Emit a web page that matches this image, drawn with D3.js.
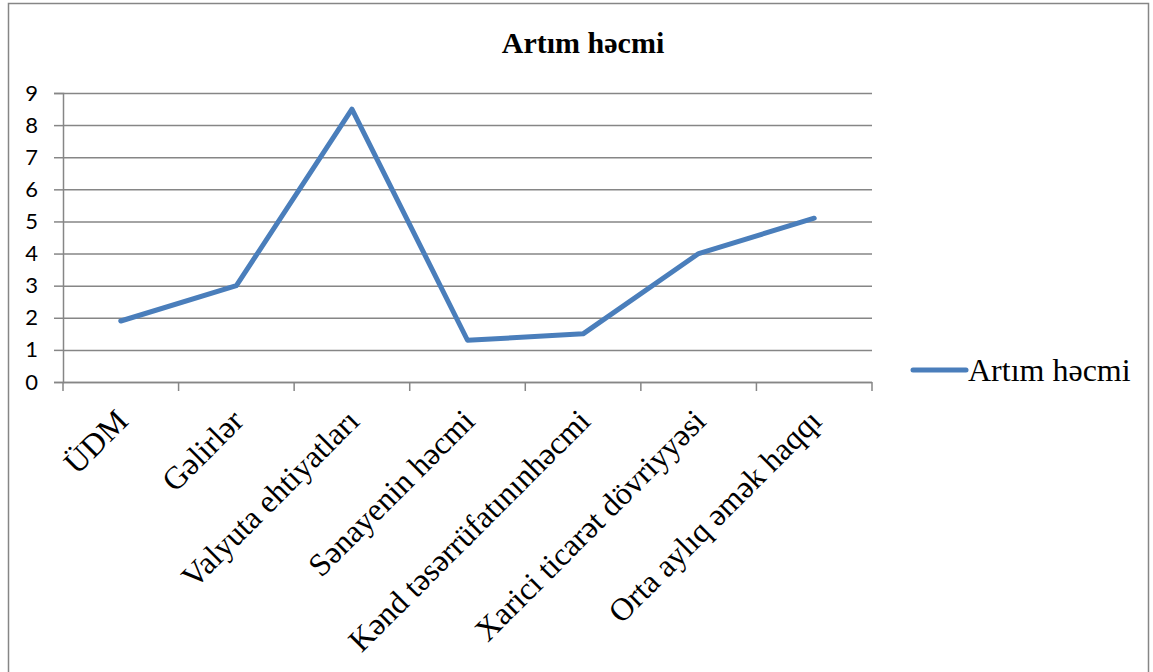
<!DOCTYPE html>
<html><head><meta charset="utf-8">
<script src="https://cdn.jsdelivr.net/npm/d3@7"></script>
<style>body{margin:0;background:#fff;}</style>
</head><body>
<svg id="c" width="1153" height="672"></svg>
<script>
const categories = ["ÜDM","Gəlirlər","Valyuta ehtiyatları","Sənayenin həcmi","Kənd təsərrüfatınınhəcmi","Xarici ticarət dövriyyəsi","Orta aylıq əmək haqqı"];
const values = [1.9, 3.0, 8.5, 1.3, 1.5, 4.0, 5.1];
const yTicks = [0,1,2,3,4,5,6,7,8,9];
const seriesName = "Artım həcmi";
const title = "Artım həcmi";

const serif = "'Liberation Serif', 'Times New Roman', serif";
const svg = d3.select("#c");
svg.append("rect").attr("x",8.5).attr("y",3.5).attr("width",1140).attr("height",700)
  .attr("fill","#fff").attr("stroke","#868686").attr("stroke-width",1.5);

const L=63, R=872, T=93, B=382;
const x = d3.scaleBand().domain(categories).range([L,R]);
const y = d3.scaleLinear().domain([0,9]).range([B,T]);

// gridlines
svg.append("g").selectAll("line").data(yTicks).join("line")
  .attr("x1",L).attr("x2",R).attr("y1",d=>y(d)+0.5).attr("y2",d=>y(d)+0.5)
  .attr("stroke","#868686").attr("stroke-width",1.5);

// y axis
const ya = svg.append("g").attr("transform",`translate(${L},0)`)
  .call(d3.axisLeft(y).tickValues(yTicks).tickSize(9).tickPadding(16));
ya.select(".domain").attr("stroke","#868686").attr("stroke-width",1.5);
ya.selectAll(".tick line").attr("stroke","#868686").attr("stroke-width",1.5);
ya.selectAll("text").attr("font-family","Lato, 'Noto Sans', sans-serif").attr("font-size",22).attr("fill","#000");

// x axis with boundary ticks
const xa = svg.append("g").attr("transform",`translate(0,${B})`);
xa.append("line").attr("x1",L).attr("x2",R).attr("y1",0.5).attr("y2",0.5).attr("stroke","#868686").attr("stroke-width",1.5);
const bounds = categories.map(c=>x(c)).concat([R]);
xa.selectAll("line.tk").data(bounds).join("line").attr("class","tk")
  .attr("x1",d=>d).attr("x2",d=>d).attr("y1",0).attr("y2",9)
  .attr("stroke","#868686").attr("stroke-width",1.5);
xa.selectAll("text").data(categories).join("text")
  .attr("transform",d=>`translate(${x(d)+x.bandwidth()/2+9},${41}) rotate(-45)`)
  .attr("text-anchor","end")
  .attr("font-family",serif)
  .attr("font-size",32).attr("fill","#000").text(d=>d);

// line
const line = d3.line().x((d,i)=>x(categories[i])+x.bandwidth()/2).y(d=>y(d));
svg.append("path").datum(values).attr("d",line).attr("fill","none")
  .attr("stroke","#4A7EBB").attr("stroke-width",5).attr("stroke-linejoin","round").attr("stroke-linecap","round");

// title
svg.append("text").attr("x",583).attr("y",53).attr("text-anchor","middle")
  .attr("font-family",serif).attr("font-weight","bold")
  .attr("font-size",30).text(title);

// legend
svg.append("line").attr("x1",913).attr("x2",966).attr("y1",370).attr("y2",370)
  .attr("stroke","#4A7EBB").attr("stroke-width",5).attr("stroke-linecap","round");
svg.append("text").attr("x",968).attr("y",381)
  .attr("font-family",serif)
  .attr("font-size",32).text(seriesName);
</script>
</body></html>
